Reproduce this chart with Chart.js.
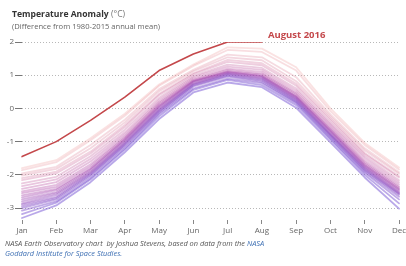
<!DOCTYPE html>
<html>
<head>
<meta charset="utf-8">
<script src="https://cdn.jsdelivr.net/npm/chart.js@4"></script>
<style>
  body { margin: 0; width: 406px; height: 266px; overflow: hidden; background: #fff; font-family: "Open Sans", sans-serif; position: relative; }
  #wrap { position: absolute; left: 0; top: 0; width: 406px; height: 240px; }
  .title { position: absolute; left: 12px; top: 8px; font-size: 8.6px; color: #333; white-space: nowrap; }
  .title b { font-weight: 700; }
  .title span { color: #777; }
  .sub { position: absolute; left: 12px; top: 21px; font-size: 7.6px; color: #666; white-space: nowrap; }
  .note { position: absolute; left: 5px; top: 238px; font-size: 7.4px; line-height: 10px; font-style: italic; color: #555; white-space: nowrap; }
  .note a { color: #3d6fb3; text-decoration: none; }
</style>
</head>
<body>
<div id="wrap"><canvas id="chart"></canvas></div>
<div class="title"><b>Temperature Anomaly</b> <span>(°C)</span></div>
<div class="sub">(Difference from 1980-2015 annual mean)</div>
<div class="note">NASA Earth Observatory chart &nbsp;by Joshua Stevens, based on data from the <a>NASA</a><br><a>Goddard Institute for Space Studies.</a></div>
<script>
// month axis
const months = ['Jan', 'Feb', 'Mar', 'Apr', 'May', 'Jun', 'Jul', 'Aug', 'Sep', 'Oct', 'Nov', 'Dec'];
const yTicks = [-3, -2, -1, 0, 1, 2];

// 2016 so far (ends in August)
const year2016 = [-1.45, -1.0, -0.36, 0.34, 1.14, 1.64, 2.0, 2.0];

// earlier years, coolest (purple) first, warmest (pink) last
const pastYears = [
  [-3.3, -2.92, -2.22, -1.32, -0.32, 0.48, 0.78, 0.64, 0.02, -1.02, -2.08, -3.02],
  [-3.18, -2.84, -2.14, -1.24, -0.24, 0.56, 0.86, 0.7, 0.1, -0.94, -2.0, -2.86],
  [-3.08, -2.8, -2.1, -1.2, -0.18, 0.6, 0.9, 0.76, 0.16, -0.9, -1.94, -2.74],
  [-3.0, -2.74, -2.04, -1.14, -0.14, 0.66, 0.96, 0.8, 0.19, -0.86, -1.9, -2.66],
  [-2.95, -2.7, -2.0, -1.1, -0.1, 0.69, 0.99, 0.84, 0.22, -0.82, -1.86, -2.6],
  [-2.9, -2.66, -1.97, -1.07, -0.07, 0.71, 1.01, 0.87, 0.25, -0.8, -1.84, -2.57],
  [-2.86, -2.6, -1.94, -1.04, -0.04, 0.74, 1.04, 0.9, 0.28, -0.78, -1.8, -2.55],
  [-2.8, -2.56, -1.91, -1.01, -0.01, 0.75, 1.05, 0.92, 0.3, -0.75, -1.78, -2.52],
  [-2.74, -2.52, -1.87, -0.97, 0.03, 0.79, 1.07, 0.95, 0.33, -0.71, -1.75, -2.48],
  [-2.68, -2.46, -1.83, -0.94, 0.06, 0.81, 1.09, 0.97, 0.35, -0.68, -1.72, -2.44],
  [-2.62, -2.42, -1.8, -0.92, 0.08, 0.82, 1.1, 0.98, 0.36, -0.66, -1.7, -2.42],
  [-2.55, -2.36, -1.74, -0.88, 0.12, 0.84, 1.12, 1.02, 0.4, -0.62, -1.66, -2.38],
  [-2.5, -2.3, -1.68, -0.84, 0.16, 0.86, 1.16, 1.05, 0.44, -0.58, -1.62, -2.34],
  [-2.42, -2.22, -1.6, -0.78, 0.2, 0.9, 1.2, 1.1, 0.48, -0.52, -1.57, -2.28],
  [-2.34, -2.14, -1.52, -0.72, 0.26, 0.94, 1.26, 1.16, 0.54, -0.47, -1.5, -2.22],
  [-2.26, -2.06, -1.44, -0.64, 0.32, 0.98, 1.32, 1.22, 0.6, -0.42, -1.44, -2.16],
  [-2.16, -1.96, -1.36, -0.56, 0.4, 1.03, 1.4, 1.3, 0.68, -0.35, -1.38, -2.08],
  [-2.1, -1.9, -1.3, -0.5, 0.44, 1.06, 1.46, 1.36, 0.74, -0.3, -1.34, -2.04],
  [-2.02, -1.82, -1.2, -0.42, 0.52, 1.12, 1.54, 1.45, 0.82, -0.24, -1.26, -1.97],
  [-1.96, -1.76, -1.1, -0.34, 0.58, 1.16, 1.62, 1.54, 0.94, -0.18, -1.2, -1.92],
  [-1.86, -1.62, -0.96, -0.22, 0.68, 1.28, 1.76, 1.7, 1.14, -0.08, -1.1, -1.84],
  [-1.8, -1.56, -0.9, -0.16, 0.72, 1.32, 1.84, 1.8, 1.24, 0.0, -1.04, -1.78]
];

// purple -> magenta -> pink
function lineColor(i, n) {
  const t = i / (n - 1);
  const a = [116, 82, 212], b = [172, 70, 170], c = [238, 158, 158];
  let from = a, to = b, k = t * 2;
  if (t > 0.5) { from = b; to = c; k = (t - 0.5) * 2; }
  const rgb = from.map((v, j) => Math.round(v + (to[j] - v) * k));
  return 'rgba(' + rgb.join(',') + ',' + (0.5 - t * 0.2) + ')';
}

const datasets = pastYears.map((vals, i) => ({
  data: vals,
  borderColor: lineColor(i, pastYears.length),
  borderWidth: 1.8,
  pointRadius: 0,
  tension: 0
}));
datasets.push({
  data: year2016,
  borderColor: '#c4484b',
  borderWidth: 1.6,
  pointRadius: 0,
  tension: 0
});

const labelPlugin = {
  id: 'aug2016',
  afterDatasetsDraw(chart) {
    const { ctx, scales } = chart;
    const x = scales.x.getPixelForValue(7) + 6;
    const y = scales.y.getPixelForValue(2) - 7;
    ctx.save();
    ctx.font = 'bold 9.5px "Open Sans", sans-serif';
    ctx.fillStyle = '#c4484b';
    ctx.textBaseline = 'middle';
    ctx.fillText('August 2016', x, y);
    ctx.restore();
  }
};

new Chart(document.getElementById('chart'), {
  type: 'line',
  data: { labels: months, datasets: datasets },
  plugins: [labelPlugin],
  options: {
    responsive: true,
    maintainAspectRatio: false,
    animation: false,
    layout: { padding: { top: 42, right: 7, left: 0, bottom: 0 } },
    plugins: { legend: { display: false }, tooltip: { enabled: false } },
    elements: { line: { borderCapStyle: 'round', borderJoinStyle: 'round' } },
    scales: {
      x: {
        offset: false,
        grid: { drawOnChartArea: false, drawTicks: true, tickLength: 4, tickColor: '#888', tickWidth: 1 },
        border: { display: false },
        ticks: { color: '#666', font: { family: 'Open Sans', size: 8 }, padding: 2, maxRotation: 0, autoSkip: false },
        afterFit(s) { s.height = 20; s.paddingLeft = 0; s.paddingRight = 0; }
      },
      y: {
        min: -3.36,
        max: 2,
        afterBuildTicks(s) { s.ticks = yTicks.map(v => ({ value: v })); },
        grid: { color: '#b8b8b8', lineWidth: 1, tickLength: 7, tickColor: '#777', tickBorderDash: [] },
        border: { display: false, dash: [1, 2] },
        ticks: { color: '#666', font: { family: 'Open Sans', size: 8 }, padding: 1 },
        afterFit(s) { s.width = 22; s.paddingTop = 0; s.paddingBottom = 0; }
      }
    }
  }
});
</script>
</body>
</html>
